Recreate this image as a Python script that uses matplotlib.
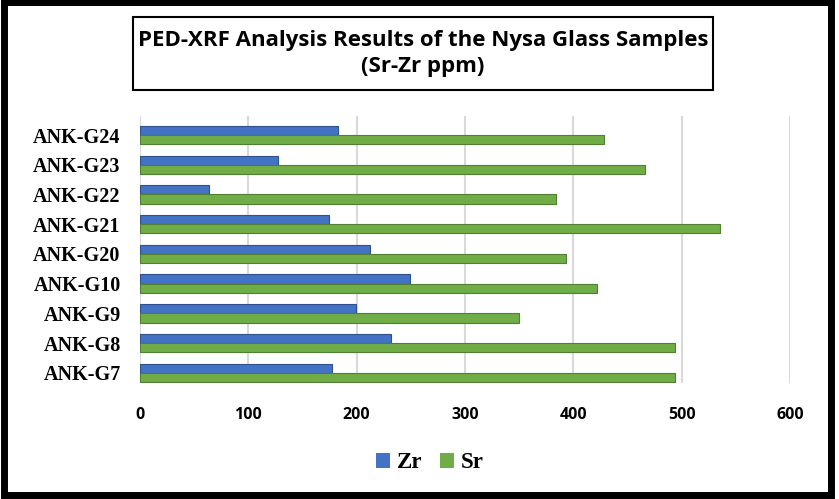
import matplotlib
matplotlib.use("Agg")
import matplotlib.pyplot as plt
from matplotlib.patches import Rectangle, Patch
import numpy as np

samples = ["ANK-G7", "ANK-G8", "ANK-G9", "ANK-G10", "ANK-G20", "ANK-G21", "ANK-G22", "ANK-G23", "ANK-G24"]
zr = [177, 232, 199, 249, 212, 174, 64, 127, 183]
sr = [494, 494, 350, 422, 393, 535, 384, 466, 428]
xticks = [0, 100, 200, 300, 400, 500, 600]

W, H = 839, 499
fig = plt.figure(figsize=(W / 100, H / 100), dpi=100)
fig.patch.set_facecolor("white")

ax = fig.add_axes([140 / W, 1 - 383 / H, 650 / W, (383 - 116) / H])
y = np.arange(len(samples))
h = 0.31
ax.barh(y + h / 2, zr, height=h, color="#4472C4", edgecolor="#2F528F", linewidth=0.8, zorder=3)
ax.barh(y - h / 2, sr, height=h, color="#70AD47", edgecolor="#507E32", linewidth=0.8, zorder=3)

ax.set_xlim(0, 600)
ax.set_ylim(-0.34, 8.64)
ax.set_xticks(xticks)
ax.set_xticklabels([str(v) for v in xticks], fontsize=11.5, fontweight="bold",
                   family=["Open Sans", "DejaVu Sans"])
ax.set_yticks(y)
ax.set_yticklabels(samples, fontsize=14.5, fontweight="bold", family=["Liberation Serif", "DejaVu Serif"])
ax.tick_params(axis="x", length=0, pad=17)
ax.tick_params(axis="y", length=0, pad=14)
ax.grid(axis="x", color="#D9D9D9", linewidth=1.5, zorder=0)
for s in ax.spines.values():
    s.set_visible(False)

# title box
fig.add_artist(Rectangle((133 / W, 1 - 90 / H), (713 - 133) / W, (90 - 17) / H,
                         transform=fig.transFigure, fill=False, edgecolor="black", linewidth=1.5))
fig.text(423 / W, 1 - 53.5 / H, "PED-XRF Analysis Results of the Nysa Glass Samples\n(Sr-Zr ppm)",
         ha="center", va="center", fontsize=16, fontweight="bold", linespacing=1.3,
         family=["Open Sans", "DejaVu Sans"])

# outer border
fig.add_artist(Rectangle((0.005, 0.008), 0.986, 0.987, transform=fig.transFigure,
                         fill=False, edgecolor="black", linewidth=5))

handles = [Patch(facecolor="#4472C4", label="Zr"), Patch(facecolor="#70AD47", label="Sr")]
fig.legend(handles=handles, loc="center", bbox_to_anchor=(430 / W, 1 - 463 / H), ncol=2,
           frameon=False, prop={"family": ["Liberation Serif"], "weight": "bold", "size": 16.5},
           handlelength=0.6, handleheight=0.6, handletextpad=0.3, columnspacing=0.8)

fig.savefig("out.png", dpi=100)
